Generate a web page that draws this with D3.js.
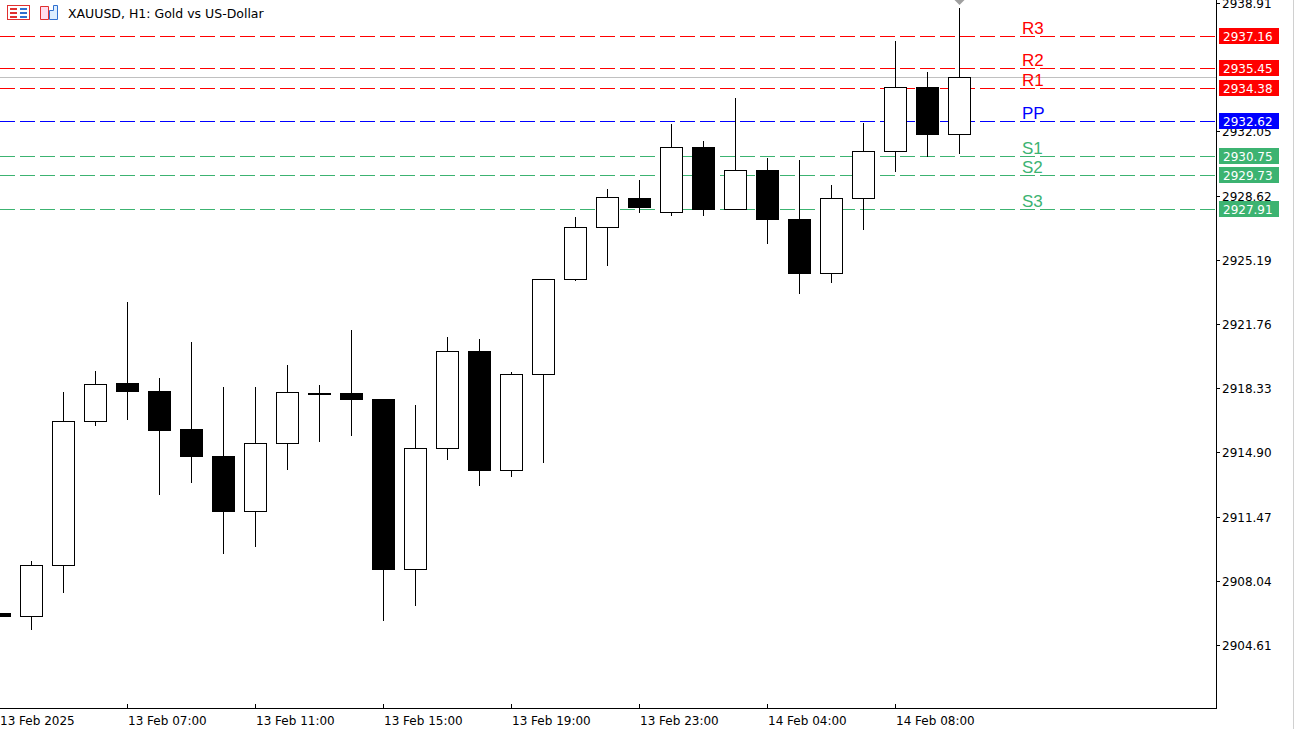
<!DOCTYPE html>
<html><head><meta charset="utf-8">
<script src="https://cdn.jsdelivr.net/npm/d3@7"></script>
<style>html,body{margin:0;padding:0;background:#fff;overflow:hidden}svg{display:block;font-family:Tahoma,"DejaVu Sans",sans-serif}line,rect{shape-rendering:crispEdges}</style>
</head><body><svg id="c" width="1294" height="729"></svg>
<script>
const opens  = [2906.32,2906.16,2908.89,2916.58,2918.61,2918.18,2916.15,2914.71,2911.77,2915.40,2918.07,2918.07,2917.75,2908.67,2915.13,2920.32,2913.96,2919.09,2924.16,2926.94,2928.49,2927.74,2931.22,2927.90,2929.99,2927.37,2924.48,2928.49,2931.00,2934.42,2931.91];
const highs  = [2906.36,2909.10,2918.13,2919.25,2922.93,2918.87,2920.80,2918.39,2918.39,2919.57,2918.50,2921.44,2917.75,2917.43,2921.06,2920.96,2919.20,2924.16,2927.48,2928.97,2929.45,2932.44,2931.54,2933.83,2930.63,2930.52,2929.19,2932.50,2936.88,2935.22,2938.64];
const lows   = [2906.12,2905.41,2907.39,2916.31,2916.63,2912.62,2913.26,2909.47,2909.84,2913.96,2915.45,2915.78,2905.89,2906.69,2914.49,2913.10,2913.59,2914.33,2924.06,2924.86,2927.69,2927.53,2927.53,2927.90,2926.03,2923.36,2923.95,2926.78,2929.88,2930.68,2930.84];
const closes = [2906.16,2908.89,2916.58,2918.55,2918.18,2916.10,2914.71,2911.77,2915.40,2918.13,2918.10,2917.75,2908.67,2915.13,2920.32,2913.96,2919.09,2924.16,2926.94,2928.54,2928.01,2931.22,2927.90,2929.99,2927.37,2924.48,2928.49,2931.00,2934.42,2931.91,2934.96];
const pivotNames  = ["R3","R2","R1","PP","S1","S2","S3"];
const pivotValues = [2937.16,2935.45,2934.38,2932.62,2930.75,2929.73,2927.91];
const pivotColors = ["#ff0000","#ff0000","#ff0000","#0000ff","#3cb371","#3cb371","#3cb371"];
const yTicks = [2938.91,2932.05,2928.62,2925.19,2921.76,2918.33,2914.90,2911.47,2908.04,2904.61];
const xTickIdx = [0,4,8,12,16,20,24,28];
const xTickLabels = ["13 Feb 2025","13 Feb 07:00","13 Feb 11:00","13 Feb 15:00","13 Feb 19:00","13 Feb 23:00","14 Feb 04:00","14 Feb 08:00"];
const lastPrice = closes[closes.length-1];

const svg = d3.select("#c");
const R = 1216, B = 708;
const y = d3.scaleLinear().domain([2904.61,2938.91]).range([645,3]);
const x = d3.scaleLinear().domain([0,1]).range([-1,31]);
const bw = 22;

svg.append("clipPath").attr("id","cl").append("rect").attr("x",0).attr("y",0).attr("width",R).attr("height",B);
const g = svg.append("g").attr("clip-path","url(#cl)");

g.append("line").attr("x1",0).attr("x2",R).attr("y1",Math.round(y(lastPrice))+0.5).attr("y2",Math.round(y(lastPrice))+0.5).attr("stroke","#c0c0c0");

pivotValues.forEach((v,i)=>{
  const yy = Math.round(y(v))+0.5;
  g.append("path").attr("d",`M0,${yy}H${R}`).attr("fill","none")
   .attr("stroke",pivotColors[i]).attr("stroke-width",1).attr("stroke-dasharray","15,5");
  svg.append("text").attr("x",1022).attr("y",yy-3).text(pivotNames[i])
   .attr("fill",pivotColors[i]).attr("font-size",17).attr("font-family","Arial, Liberation Sans, sans-serif");
});

opens.forEach((o,i)=>{
  const c = closes[i], cx = Math.round(x(i))+0.5;
  g.append("line").attr("x1",cx).attr("x2",cx).attr("y1",Math.round(y(highs[i]))).attr("y2",Math.round(y(lows[i]))).attr("stroke","#000");
  const top = Math.round(y(Math.max(o,c))), bot = Math.round(y(Math.min(o,c)));
  const bear = c < o;
  g.append("rect").attr("x",Math.round(x(i))-bw/2+0.5).attr("y",top+0.5).attr("width",bw).attr("height",Math.max(bot-top,1))
   .attr("fill",bear?"#000":"#fff").attr("stroke","#000");
});

const tx = Math.round(x(closes.length-1))+0.5;
svg.append("path").attr("d",`M${tx-5},0L${tx+5},0L${tx},5Z`).attr("fill","#a0a0a0");

svg.append("line").attr("x1",R+0.5).attr("x2",R+0.5).attr("y1",0).attr("y2",B+0.5).attr("stroke","#000");
svg.append("line").attr("x1",0).attr("x2",R+0.5).attr("y1",B+0.5).attr("y2",B+0.5).attr("stroke","#000");
svg.append("line").attr("x1",1293.5).attr("x2",1293.5).attr("y1",0).attr("y2",729).attr("stroke","#d0d0d0");

yTicks.forEach(t=>{
  const yy = Math.round(y(t))+0.5;
  svg.append("line").attr("x1",R).attr("x2",R+4).attr("y1",yy).attr("y2",yy).attr("stroke","#000");
  svg.append("text").attr("x",R+6).attr("y",yy+4).text(t.toFixed(2)).attr("font-size",12).attr("fill","#000");
});
xTickIdx.forEach((k,i)=>{
  const xx = Math.round(x(k))+0.5;
  if(i>0) svg.append("line").attr("x1",xx).attr("x2",xx).attr("y1",B).attr("y2",B-4).attr("stroke","#000");
  svg.append("text").attr("x",Math.max(xx,0)+(i>0?0.5:0)).attr("y",B+17).text(xTickLabels[i]).attr("font-size",12).attr("fill","#000");
});

pivotValues.forEach((v,i)=>{
  const yy = Math.round(y(v));
  svg.append("rect").attr("x",1219).attr("y",yy-8).attr("width",60).attr("height",16).attr("fill",pivotColors[i]);
  svg.append("text").attr("x",1223).attr("y",yy+5).text(v.toFixed(2)).attr("font-size",12).attr("fill","#fff");
});

const ic = svg.append("g");
ic.append("rect").attr("x",7.5).attr("y",5.5).attr("width",22).attr("height",14).attr("fill","#fff").attr("stroke","#e03030");
[[10,8],[10,12],[10,16],[20,8],[20,12],[20,16]].forEach(([a,b],j)=>ic.append("line").attr("x1",a).attr("x2",a+7).attr("y1",b+0.5).attr("y2",b+0.5).attr("stroke",j<3?"#e03030":"#3070d0").attr("stroke-width",2));
ic.append("path").attr("d","M40.5,6.5h8v13h-8z").attr("fill","#fde").attr("stroke","#e03030");
ic.append("path").attr("d","M49.5,10.5h4v-5h4v14h-8z").attr("fill","#def").attr("stroke","#3070d0");
svg.append("text").attr("x",68).attr("y",18).text("XAUUSD, H1:  Gold vs US-Dollar").attr("font-size",12.5).attr("fill","#000");
</script></body></html>
